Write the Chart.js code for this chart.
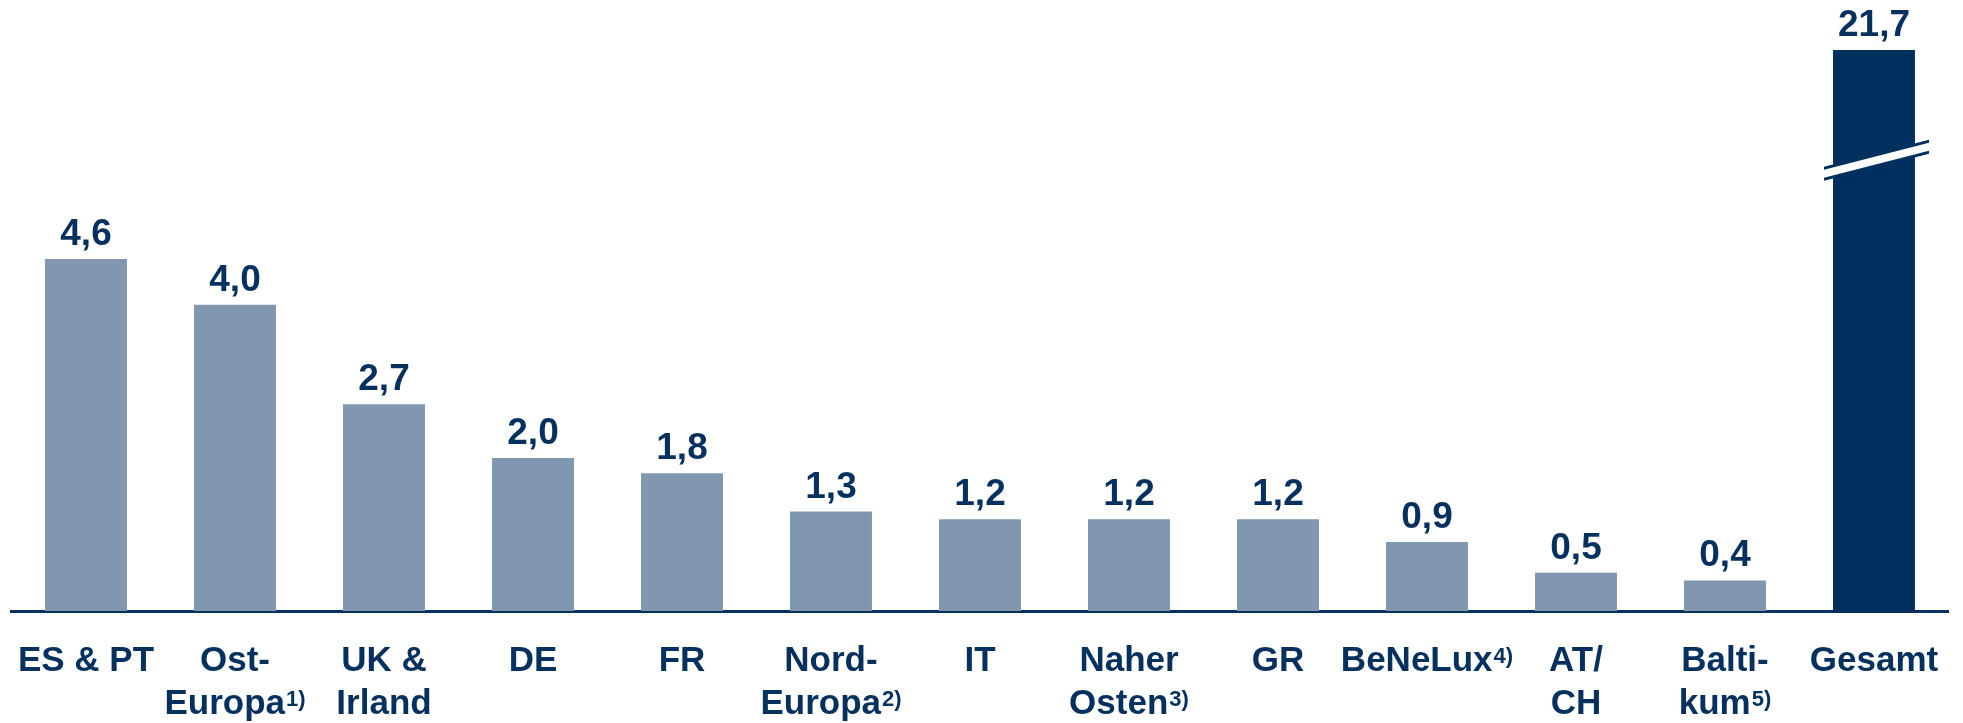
<!DOCTYPE html>
<html><head><meta charset="utf-8">
<script src="https://cdn.jsdelivr.net/npm/chart.js@4.4.1/dist/chart.umd.min.js"></script>
<style>html,body{margin:0;padding:0;background:#fff}#wrap{width:1963px;height:723px;position:relative}</style>
</head><body><div id="wrap"><canvas id="c" width="1963" height="723"></canvas></div>
<script>
const categories = [['ES & PT'], ['Ost-','Europa'], ['UK &','Irland'], ['DE'], ['FR'], ['Nord-','Europa'], ['IT'], ['Naher','Osten'], ['GR'], ['BeNeLux'], ['AT/','CH'], ['Balti-','kum'], ['Gesamt']];
const footnotes = ['', '1)', '', '', '', '2)', '', '3)', '', '4)', '', '5)', ''];
const values = [4.6, 4.0, 2.7, 2.0, 1.8, 1.3, 1.2, 1.2, 1.2, 0.9, 0.5, 0.4, 21.7];
const totalIndex = 12;
const axisMax = 7.33;

const NAVY = '#06315e';
const BAR = '#8197b0';
const TOTAL = '#00305e';
const FONT = "'Liberation Sans', Arial, sans-serif";

const labelPlugin = {
  id: 'valueLabels',
  afterDatasetsDraw(chart) {
    const ctx = chart.ctx;
    const meta = chart.getDatasetMeta(0);
    const area = chart.chartArea;
    ctx.save();
    // break mark on the (clipped) total bar
    const tb = meta.data[totalIndex];
    const x0 = tb.x - 50, x1 = tb.x + 55;
    const yl = area.top + 123.7, yr = area.top + 96.7;
    ctx.fillStyle = TOTAL;
    ctx.beginPath();
    ctx.moveTo(x0, yl - 7); ctx.lineTo(x1, yr - 7); ctx.lineTo(x1, yr + 7); ctx.lineTo(x0, yl + 7);
    ctx.closePath(); ctx.fill();
    ctx.fillStyle = '#ffffff';
    ctx.beginPath();
    ctx.moveTo(x0, yl - 4); ctx.lineTo(x1, yr - 4); ctx.lineTo(x1, yr + 4); ctx.lineTo(x0, yl + 4);
    ctx.closePath(); ctx.fill();
    // value labels
    ctx.fillStyle = NAVY;
    ctx.font = "bold 37px " + FONT;
    ctx.textAlign = 'center';
    ctx.textBaseline = 'alphabetic';
    meta.data.forEach((bar, i) => {
      const top = Math.max(bar.y, area.top);
      ctx.fillText(values[i].toFixed(1).replace('.', ','), bar.x, top - 14);
    });
    ctx.restore();
  },
  afterDraw(chart) {
    // category labels (with footnote superscripts) at the x scale's tick positions
    const ctx = chart.ctx;
    const xs = chart.scales.x;
    const mainFont = "bold 35px " + FONT;
    const supFont = "bold 22px " + FONT;
    ctx.save();
    ctx.fillStyle = NAVY;
    ctx.textAlign = 'left';
    ctx.textBaseline = 'alphabetic';
    categories.forEach((lines, i) => {
      const px = xs.getPixelForTick(i);
      lines.forEach((line, j) => {
        const y = xs.top + 60 + j * 43.3;
        const sup = (j === lines.length - 1) ? footnotes[i] : '';
        ctx.font = mainFont;
        const wMain = ctx.measureText(line).width;
        ctx.font = supFont;
        const wSup = sup ? ctx.measureText(sup).width + 1 : 0;
        const sx = px - (wMain + wSup) / 2;
        ctx.font = mainFont;
        ctx.fillText(line, sx, y);
        if (sup) {
          ctx.font = supFont;
          ctx.fillText(sup, sx + wMain + 1, y - 8);
        }
      });
    });
    ctx.restore();
  }
};

new Chart(document.getElementById('c'), {
  type: 'bar',
  data: {
    labels: categories.map((l, i) => footnotes[i] ? l.slice(0, -1).concat(l[l.length - 1] + footnotes[i]) : l),
    datasets: [{
      data: values,
      backgroundColor: values.map((v, i) => i === totalIndex ? TOTAL : BAR),
      categoryPercentage: 1.0,
      barPercentage: 0.55,
      borderWidth: 0
    }]
  },
  options: {
    responsive: false,
    animation: false,
    layout: { padding: { top: 50, left: 11.5, right: 14.5, bottom: 0 } },
    plugins: { legend: { display: false }, tooltip: { enabled: false } },
    scales: {
      y: { display: false, min: 0, max: axisMax },
      x: {
        grid: { display: false, drawTicks: false },
        border: { display: true, color: NAVY, width: 3 },
        ticks: { display: false, autoSkip: false, maxRotation: 0 },
        afterFit(scale) { scale.height = 112; scale.paddingLeft = 0; scale.paddingRight = 0; }
      }
    }
  },
  plugins: [labelPlugin]
});
</script>
</body></html>
